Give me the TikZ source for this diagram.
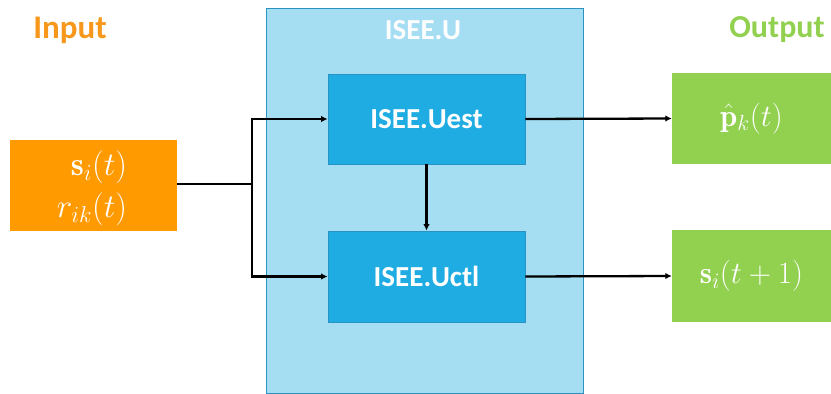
\RequirePackage{fix-cm}
\documentclass[tikz,border=0pt]{standalone}
\usepackage{fontspec}
\setsansfont{Carlito}
\usetikzlibrary{arrows.meta}
\DeclareMathSizes{33}{33}{23}{17}
\DeclareMathSizes{31}{31}{22}{16}

\definecolor{inorange}{HTML}{FF9A00}
\definecolor{titleorange}{HTML}{F7981D}
\definecolor{outgreen}{HTML}{92D050}
\definecolor{lightblue}{HTML}{A5DDF2}
\definecolor{midblue}{HTML}{1EACE3}
\definecolor{edgeblue}{HTML}{2A93C4}

\tikzset{
  blockbox/.style={draw=edgeblue, line width=0.8pt, fill=midblue, minimum width=197pt,
    minimum height=90pt, inner sep=0pt, text=white,
    font=\sffamily\bfseries\fontsize{29}{34}\selectfont},
  outbox/.style={fill=outgreen, minimum width=159pt, minimum height=91pt, inner sep=0pt,
    text=white, font=\fontsize{31}{36}\selectfont},
  heading/.style={font=\sffamily\bfseries\fontsize{33}{38}\selectfont, inner sep=0pt},
  flow/.style={line width=2.3pt, draw=black},
  flowarrow/.style={flow, -{Latex[length=6.5pt,width=6.5pt]}}
}

\begin{document}
\begin{tikzpicture}[x=1pt, y=-1pt]
  \useasboundingbox (0,0) rectangle (831,394);

  % headings
  \node[heading, text=titleorange] (intitle) at (70,30) {Input};
  \node[heading, text=outgreen, font=\sffamily\bfseries\fontsize{32}{38}\selectfont]
        (outtitle) at (777,30) {Output};

  % outer unit
  \node[draw=edgeblue, line width=0.8pt, fill=lightblue, minimum width=317pt,
        minimum height=385pt, inner sep=0pt] (unit) at (424.5,200.5) {};
  \node[heading, text=white, font=\sffamily\bfseries\fontsize{29}{34}\selectfont]
        (unittitle) at (423,30) {ISEE.U};

  % input block
  \node[fill=inorange, minimum width=167pt, minimum height=91pt, inner sep=0pt]
        (inbox) at (93.5,185) {};
  \node[text=white, align=right, font=\fontsize{33}{42}\selectfont, inner sep=0pt]
        (intext) at (92,188) {$\mathbf{s}_i(t)$\\$r_{ik}(t)$};

  % inner blocks
  \node[blockbox] (uest) at (426.5,119) {ISEE.Uest};
  \node[blockbox, minimum height=91pt] (uctl) at (426.5,276.5) {ISEE.Uctl};

  % output blocks
  \node[outbox] (pout) at (751.5,118.5) {$\hat{\mathbf{p}}_k(t)$};
  \node[outbox, minimum height=92pt] (sout) at (751.5,276) {$\mathbf{s}_i(t+1)$};

  % connectors
  \coordinate (split) at (252,184);
  \draw[flow] (inbox.east |- split) -- (split);
  \draw[flowarrow] (split) |- (uest.west);
  \draw[flowarrow] (split) |- (uctl.west);
  \draw[flowarrow] (uest.south) -- (uctl.north);
  \draw[flowarrow] (uest.east) -- (pout.west);
  \draw[flowarrow] (uctl.east) -- (sout.west);
\end{tikzpicture}
\end{document}
